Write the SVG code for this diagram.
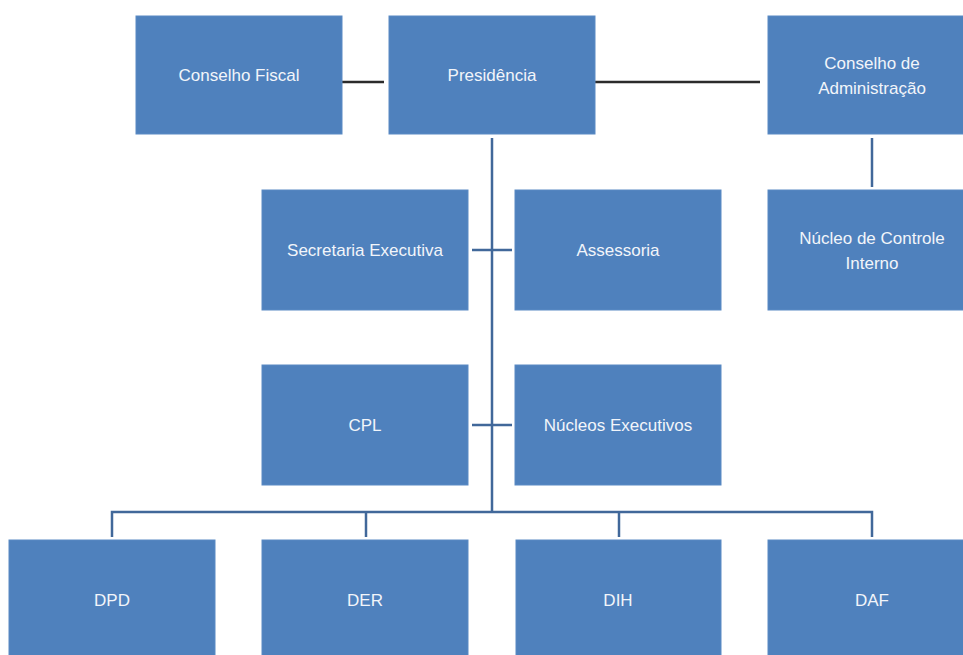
<svg xmlns="http://www.w3.org/2000/svg" width="963" height="655" viewBox="0 0 963 655">
<style>
.box{fill:#4F81BD;stroke:#5a8ac4;stroke-width:1}
.t{font-family:"Liberation Sans",Arial,sans-serif;font-size:17px;fill:#F2F5FA;text-anchor:middle;dominant-baseline:central}
.cb{stroke:#41689A;stroke-width:2.5;fill:none}
.cd{stroke:#2b2b2b;stroke-width:2.5;fill:none}
</style>
<rect width="963" height="655" fill="#ffffff"/>
<g id="connectors">
<line class="cd" x1="338" y1="82" x2="384" y2="82"/>
<line class="cd" x1="590" y1="82" x2="760" y2="82"/>
<line class="cb" x1="872" y1="138" x2="872" y2="187"/>
<line class="cb" x1="492" y1="138" x2="492" y2="512"/>
<line class="cb" x1="472" y1="250" x2="512" y2="250"/>
<line class="cb" x1="472" y1="425" x2="512" y2="425"/>
<polyline class="cb" points="112,537 112,512 872,512 872,537"/>
<line class="cb" x1="366" y1="512" x2="366" y2="537"/>
<line class="cb" x1="619" y1="512" x2="619" y2="537"/>
</g>
<g id="conselho-fiscal"><rect class="box" x="136" y="16" width="206" height="118"/><text class="t" x="239" y="75">Conselho Fiscal</text></g>
<g id="presidencia"><rect class="box" x="389" y="16" width="206" height="118"/><text class="t" x="492" y="75">Presidência</text></g>
<g id="conselho-administracao"><rect class="box" x="768" y="16" width="206" height="118"/><text class="t" x="872" y="63">Conselho de</text><text class="t" x="872" y="88">Administração</text></g>
<g id="secretaria-executiva"><rect class="box" x="262" y="190" width="206" height="120"/><text class="t" x="365" y="250">Secretaria Executiva</text></g>
<g id="assessoria"><rect class="box" x="515" y="190" width="206" height="120"/><text class="t" x="618" y="250">Assessoria</text></g>
<g id="nucleo-controle-interno"><rect class="box" x="768" y="190" width="206" height="120"/><text class="t" x="872" y="238">Núcleo de Controle</text><text class="t" x="872" y="263">Interno</text></g>
<g id="cpl"><rect class="box" x="262" y="365" width="206" height="120"/><text class="t" x="365" y="425">CPL</text></g>
<g id="nucleos-executivos"><rect class="box" x="515" y="365" width="206" height="120"/><text class="t" x="618" y="425">Núcleos Executivos</text></g>
<g id="dpd"><rect class="box" x="9" y="540" width="206" height="125"/><text class="t" x="112" y="600">DPD</text></g>
<g id="der"><rect class="box" x="262" y="540" width="206" height="125"/><text class="t" x="365" y="600">DER</text></g>
<g id="dih"><rect class="box" x="516" y="540" width="205" height="125"/><text class="t" x="618" y="600">DIH</text></g>
<g id="daf"><rect class="box" x="768" y="540" width="206" height="125"/><text class="t" x="872" y="600">DAF</text></g>
</svg>
